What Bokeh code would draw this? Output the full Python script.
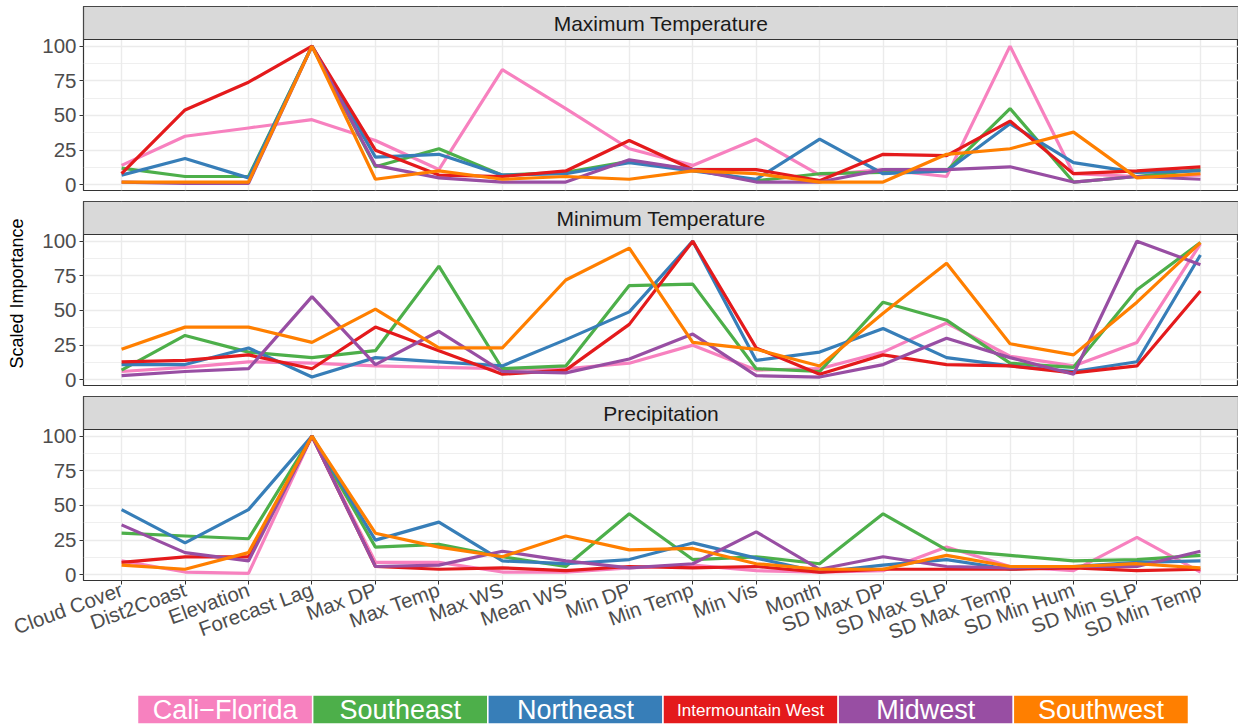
import math
from bokeh.plotting import figure
from bokeh.models import Range1d, FixedTicker, Label, ColumnDataSource
from bokeh.layouts import column
from bokeh.embed import file_html
from bokeh.resources import INLINE
from bokeh.core.properties import value

# ---------------- data ----------------
categories = ["Cloud Cover", "Dist2Coast", "Elevation", "Forecast Lag", "Max DP",
              "Max Temp", "Max WS", "Mean WS", "Min DP", "Min Temp", "Min Vis",
              "Month", "SD Max DP", "SD Max SLP", "SD Max Temp", "SD Min Hum",
              "SD Min SLP", "SD Min Temp"]
regions = ["Cali\u2212Florida", "Southeast", "Northeast", "Intermountain West",
           "Midwest", "Southwest"]
panel_titles = ["Maximum Temperature", "Minimum Temperature", "Precipitation"]
y_title = "Scaled Importance"
y_ticks = [0, 25, 50, 75, 100]

# Maximum Temperature
tmax_cali_florida = [14, 35, 41, 47, 32, 11, 83, 55, 26, 14, 33, 7, 11, 6, 100, 8, 6, 7]
tmax_southeast = [12, 6, 6, 100, 13, 26, 7, 9, 17, 11, 3, 8, 9, 10, 55, 2, 6, 11]
tmax_northeast = [7, 19, 5, 100, 20, 22, 7, 8, 16, 10, 4, 33, 8, 10, 44, 16, 9, 10]
tmax_intermountain = [8, 54, 74, 100, 25, 7, 6, 10, 32, 11, 11, 3, 22, 21, 46, 8, 10, 13]
tmax_midwest = [2, 1, 1, 100, 14, 5, 2, 2, 18, 11, 2, 2, 11, 11, 13, 2, 6, 4]
tmax_southwest = [2, 2, 2, 100, 4, 10, 4, 6, 4, 10, 8, 2, 2, 22, 26, 38, 5, 8]

# Minimum Temperature
tmin_cali_florida = [6, 9, 13, 12, 10, 9, 8, 8, 12, 25, 7, 8, 20, 41, 17, 10, 27, 98]
tmin_southeast = [7, 32, 20, 16, 21, 82, 8, 10, 68, 69, 8, 6, 56, 43, 12, 9, 65, 99]
tmin_northeast = [11, 11, 23, 2, 16, 13, 10, 29, 49, 100, 14, 20, 37, 16, 10, 6, 13, 90]
tmin_intermountain = [13, 14, 18, 8, 38, 21, 4, 7, 40, 100, 23, 4, 18, 11, 10, 5, 10, 64]
tmin_midwest = [3, 6, 8, 60, 11, 35, 6, 5, 15, 33, 3, 2, 11, 30, 16, 4, 100, 83]
tmin_southwest = [22, 38, 38, 27, 51, 23, 23, 72, 95, 27, 22, 10, 48, 84, 26, 18, 56, 99]

# Precipitation
prcp_cali_florida = [10, 2, 1, 100, 9, 9, 2, 2, 5, 7, 3, 2, 3, 20, 6, 3, 27, 2]
prcp_southeast = [30, 28, 26, 100, 20, 22, 13, 6, 44, 11, 13, 8, 44, 18, 14, 10, 11, 14]
prcp_northeast = [47, 23, 47, 100, 25, 38, 10, 8, 11, 23, 12, 2, 7, 11, 4, 6, 9, 10]
prcp_intermountain = [9, 13, 13, 100, 6, 4, 5, 3, 6, 5, 6, 2, 4, 4, 4, 5, 3, 4]
prcp_midwest = [36, 16, 10, 100, 6, 7, 17, 10, 5, 8, 31, 4, 13, 6, 5, 6, 6, 17]
prcp_southwest = [7, 4, 16, 100, 30, 20, 13, 28, 18, 19, 8, 4, 4, 14, 6, 6, 8, 5]

# ---------------- styling ----------------
colors = ["#F781BF", "#4DAF4A", "#377EB8", "#E41A1C", "#984EA3", "#FF7F00"]
FONT = "Liberation Sans"
panel_series = [
    [tmax_cali_florida, tmax_southeast, tmax_northeast, tmax_intermountain, tmax_midwest, tmax_southwest],
    [tmin_cali_florida, tmin_southeast, tmin_northeast, tmin_intermountain, tmin_midwest, tmin_southwest],
    [prcp_cali_florida, prcp_southeast, prcp_northeast, prcp_intermountain, prcp_midwest, prcp_southwest],
]

xs = list(range(len(categories)))
XLO, XHI = -0.6, len(categories) - 1 + 0.6
YLO, YTOP, YHI = -4.1, 104.8, 128.6
W = 1238
LEFT = 83
FRAME_H = 184


def make_panel(title, series, show_x, ylabel, top, bottom):
    p = figure(width=W, height=top + FRAME_H + bottom,
               x_range=Range1d(XLO, XHI), y_range=Range1d(YLO, YHI),
               x_axis_location="below" if show_x else None,
               output_backend="svg", toolbar_location=None,
               min_border_left=LEFT, min_border_right=0, min_border_top=top,
               min_border_bottom=bottom)
    p.background_fill_color = "white"
    p.border_fill_color = "white"
    p.outline_line_color = "#333333"
    p.outline_line_width = 1.2

    # grid
    p.xgrid.ticker = FixedTicker(ticks=xs)
    p.xgrid.grid_line_color = "#EBEBEB"
    p.xgrid.grid_line_width = 1.4
    yt = FixedTicker(ticks=y_ticks, minor_ticks=[12.5, 37.5, 62.5, 87.5])
    p.yaxis.ticker = yt
    p.ygrid.ticker = yt
    p.ygrid.grid_line_color = "#EBEBEB"
    p.ygrid.grid_line_width = 1.4
    p.ygrid.minor_grid_line_color = "#EBEBEB"
    p.ygrid.minor_grid_line_width = 0.8

    # y axis
    ax = p.yaxis[0]
    ax.axis_line_color = None
    ax.major_tick_line_color = "#333333"
    ax.major_tick_out = 4
    ax.major_tick_in = 0
    ax.minor_tick_line_color = None
    ax.major_label_text_font = FONT
    ax.major_label_text_font_size = "20.5px"
    ax.major_label_text_color = "#4D4D4D"
    ax.major_label_standoff = 3
    if ylabel:
        ax.axis_label = ylabel
        ax.axis_label_text_font = FONT
        ax.axis_label_text_font_size = "18px"
        ax.axis_label_text_font_style = "normal"
        ax.axis_label_text_color = "black"
        ax.axis_label_standoff = 12

    if show_x:
        xa = p.xaxis[0]
        xa.ticker = FixedTicker(ticks=xs)
        xa.major_label_overrides = {i: c for i, c in zip(xs, categories)}
        xa.major_label_orientation = math.pi / 9
        xa.axis_line_color = None
        xa.major_tick_line_color = "#333333"
        xa.major_tick_out = 4
        xa.major_tick_in = 0
        xa.minor_tick_line_color = None
        xa.major_label_text_font = FONT
        xa.major_label_text_font_size = "20.5px"
        xa.major_label_text_color = "#4D4D4D"
        xa.major_label_standoff = 4

    for vals, col in zip(series, colors):
        p.line(xs, vals, line_color=col, line_width=3.2)

    # facet strip
    p.quad(left=XLO, right=XHI, bottom=YTOP, top=YHI,
           fill_color="#D9D9D9", line_color="#333333", line_width=1.2)
    p.add_layout(Label(x=(XLO + XHI) / 2, y=(YTOP + YHI) / 2, text=title,
                       text_align="center", text_baseline="middle",
                       text_font=FONT, text_font_size="21px", text_color="#1A1A1A"))
    return p


p1 = make_panel(panel_titles[0], panel_series[0], False, None, 6, 11)
p2 = make_panel(panel_titles[1], panel_series[1], False, y_title, 0, 11)
p3 = make_panel(panel_titles[2], panel_series[2], True, None, 0, 112)

# legend strip (boxes from x=137 to x=1188 on the page)
box_left_px, box_right_px = 137, 1188
unit_px = (box_right_px - box_left_px) / len(regions)
lg_start = -(box_left_px - LEFT) / unit_px
lg_end = lg_start + (W - LEFT) / unit_px
pad = 2.5 / 29
lg = figure(width=W, height=34,
            x_range=Range1d(lg_start, lg_end), y_range=Range1d(-pad, 1 + pad),
            x_axis_location=None, y_axis_location=None,
            output_backend="svg", toolbar_location=None,
            min_border_left=LEFT, min_border_right=0, min_border_top=0, min_border_bottom=0)
lg.grid.visible = False
lg.outline_line_color = None
lg.background_fill_color = "white"
lg.border_fill_color = "white"
src = ColumnDataSource(dict(
    left=[i for i in range(len(regions))],
    right=[i + 1 for i in range(len(regions))],
    xc=[i + 0.5 for i in range(len(regions))],
    label=regions,
    color=colors,
    size=["17px" if len(r) > 14 else "27px" for r in regions],
))
lg.quad(left="left", right="right", bottom=0, top=1, fill_color="color",
        line_color="white", line_width=1.5, source=src)
lg.text(x="xc", y=0.47, text="label", text_color="white", text_font_size="size",
        text_align="center", text_baseline="middle", text_font=value(FONT), source=src)

layout = column(p1, p2, p3, lg, spacing=0)
open("out.html", "w").write(file_html(layout, INLINE))
